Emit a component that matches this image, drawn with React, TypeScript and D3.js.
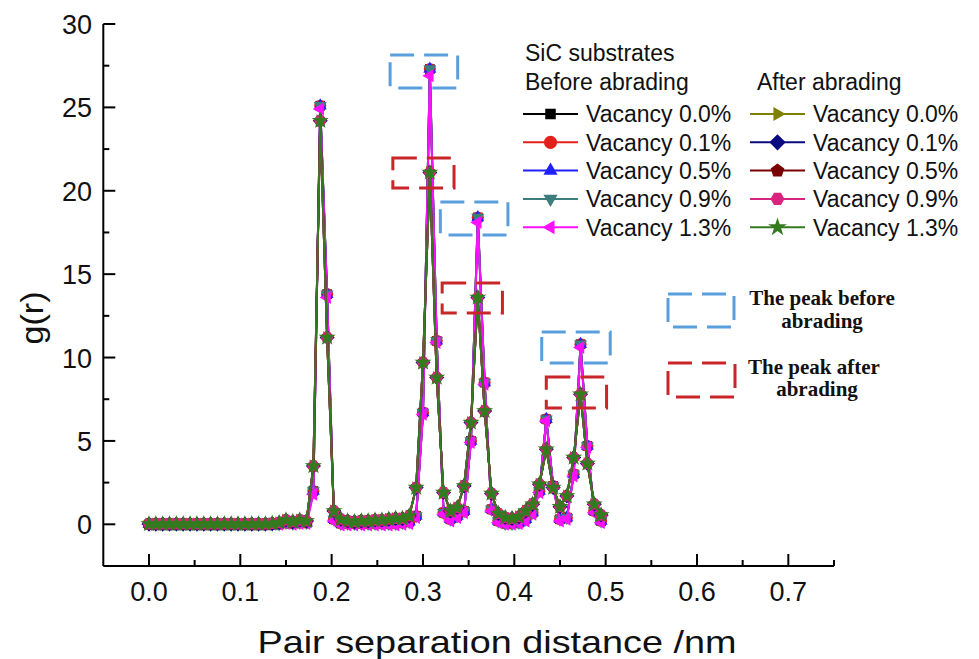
import React from 'react';
import * as d3 from 'd3';

// ---------------- data ----------------
const R_STEP = 0.0075; // sampling grid of r (nm)
const G_BEFORE = [
  0, 0, 0, 0, 0, 0, 0, 0, 0, 0,
  0, 0, 0, 0, 0, 0, 0, 0, 0, 0.02,
  0.1, 0.05, 0.1, 0.1, 2.0, 25.1, 13.8, 0.3, 0.05, 0.05,
  0.05, 0.05, 0.05, 0.05, 0.05, 0.05, 0.05, 0.1, 0.15, 0.5,
  6.7, 27.3, 11.0, 0.7, 0.3, 0.5, 0.8, 5.0, 18.4, 8.5,
  0.9, 0.2, 0.05, 0.05, 0.1, 0.3, 0.7, 2.0, 6.3, 2.3,
  0.3, 0.4, 3.0, 10.8, 4.7, 0.8, 0.2,
];
const G_BEFORE_13 = [
  0, 0, 0, 0, 0, 0, 0, 0, 0, 0,
  0, 0, 0, 0, 0, 0, 0, 0, 0, 0,
  0.05, 0.0, 0.05, 0.05, 1.8, 24.9, 13.6, 0.2, -0.05, -0.05,
  -0.05, -0.05, -0.05, -0.05, -0.05, -0.05, -0.05, 0.0, 0.05, 0.4,
  6.6, 26.9, 10.9, 0.6, 0.2, 0.4, 0.7, 4.9, 18.1, 8.4,
  0.8, 0.1, 0.0, 0.0, 0.05, 0.2, 0.6, 1.9, 6.2, 2.2,
  0.2, 0.3, 2.9, 10.6, 4.6, 0.7, 0.1,
];
const G_AFTER = [
  0.02, 0.02, 0.02, 0.02, 0.02, 0.02, 0.02, 0.02, 0.02, 0.02,
  0.02, 0.02, 0.02, 0.02, 0.02, 0.02, 0.02, 0.02, 0.05, 0.1,
  0.25, 0.15, 0.25, 0.2, 3.5, 24.2, 11.2, 0.8, 0.3, 0.2,
  0.15, 0.2, 0.2, 0.25, 0.25, 0.3, 0.35, 0.35, 0.5, 2.2,
  9.7, 21.1, 8.8, 1.9, 0.8, 1.0, 2.3, 6.1, 13.6, 6.8,
  1.85, 0.65, 0.4, 0.35, 0.45, 0.8, 1.2, 2.4, 4.5, 2.2,
  1.05, 1.7, 4.0, 7.8, 3.65, 1.2, 0.55,
];

const X_TICKS = [0, 0.1, 0.2, 0.3, 0.4, 0.5, 0.6, 0.7];
const X_MINOR = [0.05, 0.15, 0.25, 0.35, 0.45, 0.55, 0.65, 0.75];
const Y_TICKS = [0, 5, 10, 15, 20, 25, 30];
const Y_MINOR = [2.5, 7.5, 12.5, 17.5, 22.5, 27.5];

const VACANCIES = ['Vacancy 0.0%', 'Vacancy 0.1%', 'Vacancy 0.5%', 'Vacancy 0.9%', 'Vacancy 1.3%'];
const BEFORE_COLORS = ['#000000', '#E3211C', '#1F1FFF', '#3C7D7D', '#FF10FF'];
const AFTER_COLORS = ['#808000', '#0A0A80', '#780000', '#D8237F', '#347A1E'];
const BEFORE_MARKERS = ['square', 'circle', 'triUp', 'triDown', 'triLeft'];
const AFTER_MARKERS = ['triRight', 'diamond', 'pentagon', 'hexagon', 'star'];
const BEFORE_VALUES = [G_BEFORE, G_BEFORE, G_BEFORE, G_BEFORE, G_BEFORE_13];
const AFTER_VALUES = [G_AFTER, G_AFTER, G_AFTER, G_AFTER, G_AFTER];

// highlighted peak regions [r0, r1, g0, g1]
const PEAK_BOXES_BEFORE = [
  [0.264, 0.338, 26.16, 28.14],
  [0.319, 0.393, 17.35, 19.33],
  [0.430, 0.505, 9.67, 11.53],
];
const PEAK_BOXES_AFTER = [
  [0.267, 0.334, 20.17, 21.96],
  [0.321, 0.387, 12.67, 14.47],
  [0.435, 0.501, 6.97, 8.83],
];

// ---------------- layout ----------------
const W = 979;
const H = 659;
const FONT = 'Liberation Sans, Arial, Helvetica, sans-serif';
const SERIF = 'Liberation Serif, Times New Roman, serif';
const BLUE_BOX = '#5A9FDD';
const RED_BOX = '#C8262B';

function polygonPath(n: number, r: number, rot: number) {
  const pts: string[] = [];
  for (let k = 0; k < n; k++) {
    const a = rot + (k * 2 * Math.PI) / n;
    pts.push(`${(r * Math.cos(a)).toFixed(2)},${(r * Math.sin(a)).toFixed(2)}`);
  }
  return 'M' + pts.join('L') + 'Z';
}

function Marker({ type, x, y, color, s }: { type: string; x: number; y: number; color: string; s: number }) {
  const t = `translate(${x},${y})`;
  if (type === 'circle') return <circle cx={x} cy={y} r={s * 0.55} fill={color} />;
  let d = '';
  switch (type) {
    case 'square': d = polygonPath(4, s * 0.62, Math.PI / 4); break;
    case 'diamond': d = polygonPath(4, s * 0.68, 0); break;
    case 'triUp': d = polygonPath(3, s * 0.68, -Math.PI / 2); break;
    case 'triDown': d = polygonPath(3, s * 0.68, Math.PI / 2); break;
    case 'triLeft': d = polygonPath(3, s * 0.68, Math.PI); break;
    case 'triRight': d = polygonPath(3, s * 0.68, 0); break;
    case 'pentagon': d = polygonPath(5, s * 0.6, -Math.PI / 2); break;
    case 'hexagon': d = polygonPath(6, s * 0.58, 0); break;
    case 'star': d = d3.symbol().type(d3.symbolStar).size(s * s * 0.75)() || ''; break;
  }
  return <path d={d} transform={t} fill={color} />;
}

export default function App() {
  const x = d3.scaleLinear().domain([-0.05, 0.75]).range([103.3, 834]);
  const y = d3.scaleLinear().domain([-2.5, 30]).range([566, 24]);
  const line = d3
    .line<number>()
    .x((_, i) => x(i * R_STEP))
    .y((v) => y(v));

  const series = [
    ...VACANCIES.map((name, k) => ({ name, color: BEFORE_COLORS[k], marker: BEFORE_MARKERS[k], values: BEFORE_VALUES[k] })),
    ...VACANCIES.map((name, k) => ({ name, color: AFTER_COLORS[k], marker: AFTER_MARKERS[k], values: AFTER_VALUES[k] })),
  ];

  const x0 = x.range()[0];
  const y0 = y.range()[0];
  const rowY = (k: number) => 114 + k * 28.3;

  return (
    <svg width={W} height={H} style={{ position: 'absolute', left: 0, top: 0, background: '#fff' }} fontFamily={FONT}>
      <rect width={W} height={H} fill="#fff" />
      {/* series */}
      {series.map((s, si) => (
        <g key={si}>
          <path d={line(s.values) || ''} fill="none" stroke={s.color} strokeWidth={2} />
          {s.values.map((v, i) => (
            <Marker key={i} type={s.marker} x={x(i * R_STEP)} y={y(v)} color={s.color} s={11} />
          ))}
        </g>
      ))}

      {/* peak boxes */}
      {PEAK_BOXES_BEFORE.map((b, i) => (
        <rect key={'pb' + i} x={x(b[0])} y={y(b[3])} width={x(b[1]) - x(b[0])} height={y(b[2]) - y(b[3])}
          fill="none" stroke={BLUE_BOX} strokeWidth={3} strokeDasharray="24 10" />
      ))}
      {PEAK_BOXES_AFTER.map((b, i) => (
        <rect key={'pa' + i} x={x(b[0])} y={y(b[3])} width={x(b[1]) - x(b[0])} height={y(b[2]) - y(b[3])}
          fill="none" stroke={RED_BOX} strokeWidth={3} strokeDasharray="24 10" />
      ))}

      {/* axes */}
      <line x1={x0} x2={x.range()[1]} y1={y0} y2={y0} stroke="#000" strokeWidth={2} />
      <line x1={x0} x2={x0} y1={y0} y2={y.range()[1]} stroke="#000" strokeWidth={2} />
      {X_TICKS.map((t) => (
        <g key={'xt' + t}>
          <line x1={x(t)} x2={x(t)} y1={y0} y2={y0 - 12} stroke="#000" strokeWidth={2} />
          <text x={x(t)} y={601} textAnchor="middle" fontSize={27} fill="#111">{t.toFixed(1)}</text>
        </g>
      ))}
      {X_MINOR.map((t) => (
        <line key={'xm' + t} x1={x(t)} x2={x(t)} y1={y0} y2={y0 - 6} stroke="#000" strokeWidth={2} />
      ))}
      {Y_TICKS.map((t) => (
        <g key={'yt' + t}>
          <line x1={x0} x2={x0 + 12} y1={y(t)} y2={y(t)} stroke="#000" strokeWidth={2} />
          <text x={92} y={y(t) + 10} textAnchor="end" fontSize={27} fill="#111">{t}</text>
        </g>
      ))}
      {Y_MINOR.map((t) => (
        <line key={'ym' + t} x1={x0} x2={x0 + 6} y1={y(t)} y2={y(t)} stroke="#000" strokeWidth={2} />
      ))}

      {/* axis titles */}
      <text transform="translate(497,653) scale(1.22,1)" textAnchor="middle" fontSize={31} fill="#111">
        Pair separation distance /nm
      </text>
      <text transform="translate(43,318) rotate(-90) scale(1.1,1)" textAnchor="middle" fontSize={31} fill="#111">
        g(r)
      </text>

      {/* legend */}
      <text x={525} y={61} fontSize={23} fill="#111">SiC substrates</text>
      <text x={525} y={90} fontSize={23} fill="#111">Before abrading</text>
      <text x={757} y={90} fontSize={23} fill="#111">After abrading</text>
      {series.map((s, si) => {
        const col = si < 5 ? 0 : 1;
        const k = si % 5;
        const lx0 = col === 0 ? 523 : 750;
        const cy = rowY(k);
        return (
          <g key={'lg' + si}>
            <line x1={lx0} x2={lx0 + 55} y1={cy} y2={cy} stroke={s.color} strokeWidth={2} />
            <Marker type={s.marker} x={lx0 + 27.5} y={cy} color={s.color} s={12} />
            <text x={lx0 + 63} y={cy + 8.3} fontSize={23} fill="#111">{s.name}</text>
          </g>
        );
      })}

      {/* annotation legend */}
      <rect x={668} y={294} width={66} height={33} fill="none" stroke={BLUE_BOX} strokeWidth={3} strokeDasharray="24 10" />
      <text x={822} y={305} textAnchor="middle" fontSize={21} fontWeight="bold" fontFamily={SERIF} fill="#111">The peak before</text>
      <text x={822} y={328} textAnchor="middle" fontSize={21} fontWeight="bold" fontFamily={SERIF} fill="#111">abrading</text>
      <rect x={668} y={363} width={67} height={34} fill="none" stroke={RED_BOX} strokeWidth={3} strokeDasharray="24 10" />
      <text x={814} y={374} textAnchor="middle" fontSize={21} fontWeight="bold" fontFamily={SERIF} fill="#111">The peak after</text>
      <text x={817} y={396} textAnchor="middle" fontSize={21} fontWeight="bold" fontFamily={SERIF} fill="#111">abrading</text>
    </svg>
  );
}
